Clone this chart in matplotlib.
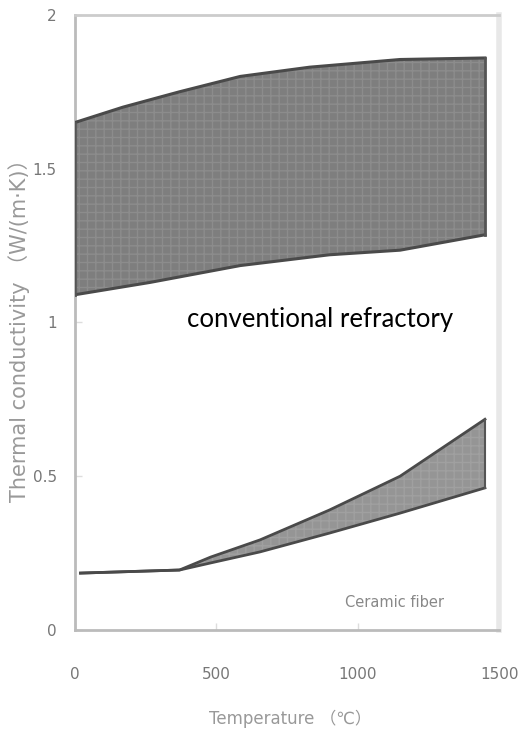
import numpy as np
import matplotlib.pyplot as plt

# values (temperature in degC, conductivity in W/(m K))
refr_temp = [0, 170, 370, 585, 830, 1150, 1450]
refr_high = [1.65, 1.70, 1.75, 1.80, 1.83, 1.855, 1.86]
refr_low_temp = [0, 265, 585, 900, 1150, 1450]
refr_low = [1.09, 1.13, 1.185, 1.22, 1.235, 1.285]

fiber_temp = [20, 370, 480, 655, 900, 1150, 1450]
fiber_high = [0.185, 0.195, 0.237, 0.293, 0.39, 0.50, 0.685]
fiber_low = [0.185, 0.195, 0.218, 0.254, 0.315, 0.38, 0.462]

xticks = [0, 500, 1000, 1500]
xtick_labels = ['0', '500', '1000', '1500']
yticks = [0, 0.5, 1, 1.5, 2]
ytick_labels = ['0', '0.5', '1', '1.5', '2']

fonts = ['DejaVu Sans', 'Noto Sans CJK JP']

fig = plt.figure(figsize=(5.27, 7.34), dpi=100)
ax = fig.add_axes([0.142, 0.1417, 0.805, 0.838])

# conventional refractory band
t = np.array(refr_temp, dtype=float)
hi = np.array(refr_high)
lo = np.interp(t, refr_low_temp, refr_low)
ax.fill_between(t, lo, hi, facecolor='#7e7e7e', edgecolor='#8c8c8c',
                hatch='++', linewidth=0, zorder=2)
ax.plot(refr_temp, refr_high, color='#4a4a4a', lw=2.2, zorder=3)
ax.plot(refr_low_temp, refr_low, color='#4a4a4a', lw=2.2, zorder=3)
ax.plot([refr_temp[0]] * 2, [lo[0], hi[0]], color='#555555', lw=2, zorder=3)
ax.plot([refr_temp[-1]] * 2, [lo[-1], hi[-1]], color='#555555', lw=2, zorder=3)

# ceramic fiber band
ax.fill_between(fiber_temp, fiber_low, fiber_high, facecolor='#959595',
                edgecolor='#a0a0a0', hatch='++', linewidth=0, zorder=2)
ax.plot(fiber_temp, fiber_high, color='#4a4a4a', lw=2, zorder=3)
ax.plot(fiber_temp, fiber_low, color='#4a4a4a', lw=2, zorder=3)
ax.plot([fiber_temp[-1]] * 2, [fiber_low[-1], fiber_high[-1]],
        color='#555555', lw=1.5, zorder=3)

ax.set_xlim(0, 1500)
ax.set_ylim(0, 2)
ax.set_xticks(xticks)
ax.set_xticklabels(xtick_labels)
ax.set_yticks(yticks)
ax.set_yticklabels(ytick_labels)
ax.tick_params(direction='in', length=5, width=1, color='#dddddd',
               labelcolor='#777777', labelsize=11)
ax.tick_params(axis='x', pad=27)
ax.tick_params(axis='y', pad=13)

for side in ['left', 'bottom']:
    ax.spines[side].set_color('#bbbbbb')
    ax.spines[side].set_linewidth(2)
ax.spines['top'].set_color('#cccccc')
ax.spines['top'].set_linewidth(2)
ax.spines['right'].set_color('#e8e8e8')
ax.spines['right'].set_linewidth(4)

ax.text(867, 1.008, 'conventional refractory', fontsize=18.5, family='Lato',
        color='black', ha='center', va='center', zorder=4)
ax.text(1132, 0.091, 'Ceramic fiber', fontsize=10.5, color='#888888',
        ha='center', va='center', zorder=4)

fig.text(0.55, 0.02, 'Temperature （℃）', fontsize=12, color='#999999',
         ha='center', va='center', family=fonts)
fig.text(0.036, 0.557, 'Thermal conductivity （W/(m·K)）', fontsize=15,
         color='#999999', rotation=90, ha='center', va='center', family=fonts)

fig.savefig('out.png', dpi=100)
